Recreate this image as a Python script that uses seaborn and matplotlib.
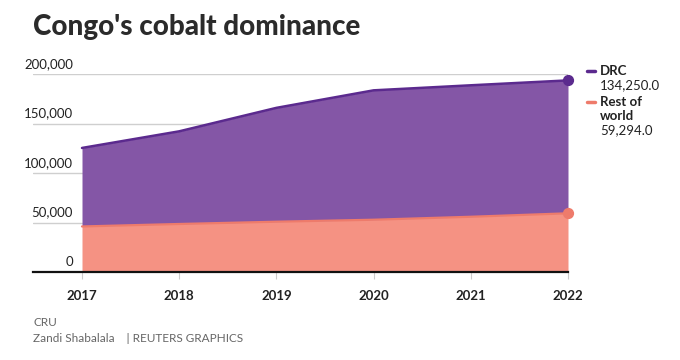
import matplotlib
matplotlib.use("Agg")
import matplotlib.pyplot as plt
import matplotlib.transforms as mtransforms
import seaborn as sns
import pandas as pd

years = [2017, 2018, 2019, 2020, 2021, 2022]
rest_of_world = [46000, 48500, 50800, 52800, 55800, 59294]
drc = [79300, 93600, 115000, 130700, 132800, 134250]
yticks = [0, 50000, 100000, 150000, 200000]
ytick_labels = ["0", "50,000", "100,000", "150,000", "200,000"]
title = "Congo's cobalt dominance"
source = "CRU"
byline = "Zandi Shabalala    | REUTERS GRAPHICS"

sns.set_theme(style="white")
plt.rcParams["font.family"] = ["Lato", "DejaVu Sans"]

purple_fill = "#8456A6"
purple_line = "#5B2A8E"
orange_fill = "#F59283"
orange_line = "#EE7B6B"

df = pd.DataFrame({"year": years, "row": rest_of_world, "drc": drc})
df["total"] = df["row"] + df["drc"]

fig = plt.figure(figsize=(6.8, 3.6), dpi=100)
fig.patch.set_facecolor("white")
ax = fig.add_axes([33 / 680, 1 - 272 / 360, (568 - 33) / 680, (272 - 74) / 360])
x0 = 2017 - (82 - 33) / ((568 - 82) / 5)
ax.set_xlim(x0, 2022)
ax.set_ylim(0, 200000)

for v in yticks[1:]:
    ax.axhline(v, color="#cfcfcf", lw=1.0, zorder=0)

ax.fill_between(df["year"], 0, df["row"], color=orange_fill, lw=0, zorder=1)
ax.fill_between(df["year"], df["row"], df["total"], color=purple_fill, lw=0, zorder=1)
sns.lineplot(x="year", y="total", data=df, color=purple_line, lw=1.8, ax=ax, zorder=3)
sns.lineplot(x="year", y="row", data=df, color=orange_line, lw=1.6, ax=ax, zorder=3)
ax.scatter([years[-1]], [df["total"].iloc[-1]], s=50, color=purple_line, zorder=4, clip_on=False)
ax.scatter([years[-1]], [rest_of_world[-1]], s=50, color=orange_line, zorder=4, clip_on=False)

for s in ["top", "right", "left"]:
    ax.spines[s].set_visible(False)
ax.spines["bottom"].set_color("#111111")
ax.spines["bottom"].set_linewidth(1.6)
ax.spines["bottom"].set_zorder(5)

ax.set_yticks([])
ax.set_xticks(years)
ax.set_xticklabels([str(y) for y in years], fontsize=9.5, fontweight="bold", color="#222222")
ax.tick_params(axis="x", length=5, width=0.8, color="#cccccc", pad=8, direction="out", bottom=True)
ax.set_xlabel("")
ax.set_ylabel("")

blend = mtransforms.blended_transform_factory(ax.transAxes, ax.transData)
off = mtransforms.offset_copy(blend, fig=fig, x=0, y=3, units="points")
for v, lab in zip(yticks, ytick_labels):
    ax.text((73 - 33) / 535, v, lab, transform=off, ha="right", va="bottom",
            fontsize=9.5, color="#222222")

fig.text(33 / 680, 1 - 27 / 360, title, fontsize=20, fontweight="black",
         color="#2b2b2b", va="center", ha="left")

# legend
fig.lines.append(plt.Line2D([587 / 680, 595 / 680], [1 - 71 / 360] * 2, color=purple_line,
                            lw=2.5, transform=fig.transFigure))
fig.text(600 / 680, 1 - 71 / 360, "DRC", fontsize=9.5, fontweight="bold", color="#222222", va="center")
fig.text(600 / 680, 1 - 85 / 360, f"{drc[-1]:,.1f}", fontsize=9.5, color="#222222", va="center")
fig.lines.append(plt.Line2D([587 / 680, 595 / 680], [1 - 102 / 360] * 2, color=orange_line,
                            lw=2.5, transform=fig.transFigure))
fig.text(600 / 680, 1 - 102 / 360, "Rest of", fontsize=9.5, fontweight="bold", color="#222222", va="center")
fig.text(600 / 680, 1 - 116 / 360, "world", fontsize=9.5, fontweight="bold", color="#222222", va="center")
fig.text(600 / 680, 1 - 130 / 360, f"{rest_of_world[-1]:,.1f}", fontsize=9.5, color="#222222", va="center")

fig.text(33 / 680, 1 - 322 / 360, source, fontsize=8.5, color="#666666", va="center")
fig.text(33 / 680, 1 - 338 / 360, byline, fontsize=8.5, color="#666666", va="center")

fig.savefig("out.png", dpi=100, facecolor="white")
